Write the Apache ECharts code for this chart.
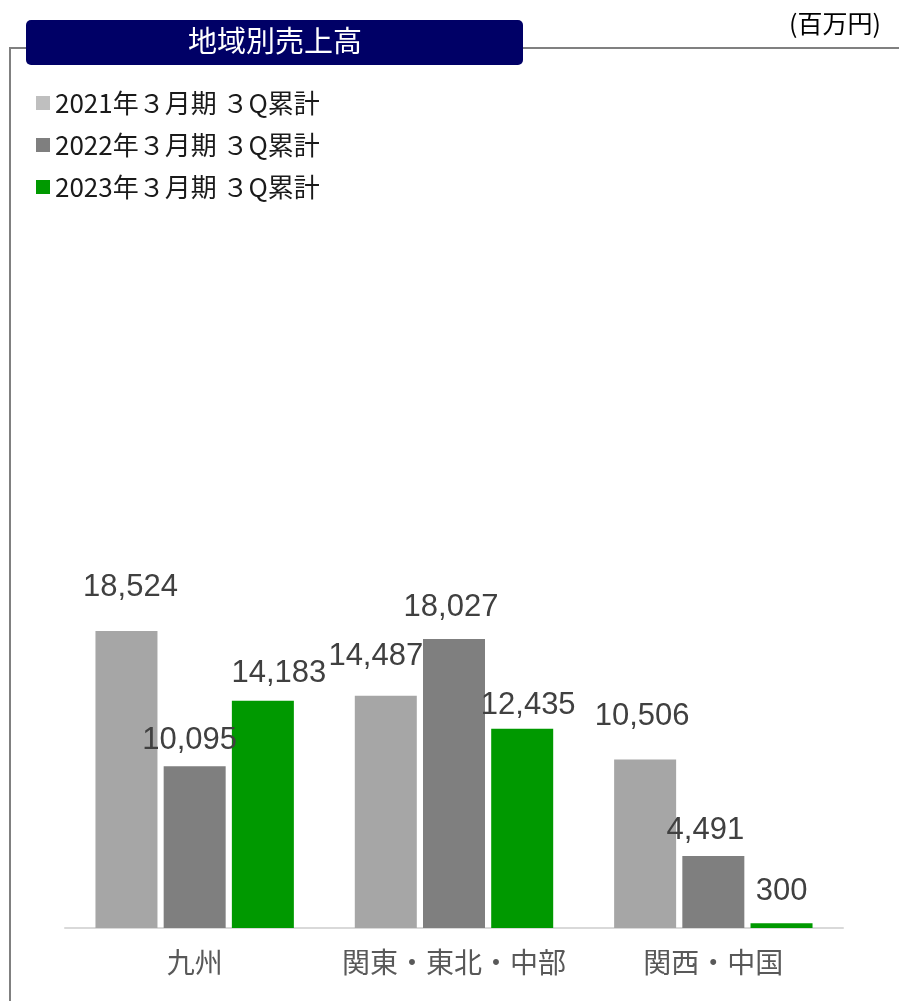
<!DOCTYPE html>
<html>
<head>
<meta charset="utf-8">
<script src="https://cdn.jsdelivr.net/npm/echarts@6/dist/echarts.min.js"></script>
<style>
  html, body { margin: 0; padding: 0; background: #fff; }
  #main { width: 899px; height: 1001px; }
</style>
</head>
<body>
<div id="main"></div>
<script>
// data
var regions = ["九州", "関東・東北・中部", "関西・中国"];
var seriesNames = ["2021年３月期 ３Q累計", "2022年３月期 ３Q累計", "2023年３月期 ３Q累計"];
var fy2021 = [18524, 14487, 10506];
var fy2022 = [10095, 18027, 4491];
var fy2023 = [14183, 12435, 300];

var barColors = ["#a6a6a6", "#7f7f7f", "#009900"];
var legendColors = ["#bfbfbf", "#7f7f7f", "#009900"];
// label nudges (Excel style placement), [dx, dy] per bar
var labelShift = [
  [[4, -23], [-10, -19], [-3, -23]],
  [[-5, -5], [-3, -11], [-8, -5]],
  [[16, -7], [6, -3], [0, -11]]
];

var chart = echarts.init(document.getElementById("main"));
var allValues = [fy2021, fy2022, fy2023];

function makeSeries(idx) {
  return {
    name: seriesNames[idx],
    type: "bar",
    barWidth: 62,
    barGap: "10%",
    data: allValues[idx].map(function (v, i) {
      return {
        value: v,
        label: { offset: labelShift[idx][i] }
      };
    }),
    itemStyle: { color: barColors[idx] },
    label: {
      show: true,
      position: "top",
      color: "#404040",
      fontSize: 31,
      fontFamily: "Liberation Sans",
      formatter: function (p) {
        return p.value.toLocaleString("en-US");
      }
    }
  };
}

var option = {
  animation: false,
  textStyle: { fontFamily: "'Noto Sans CJK JP', sans-serif" },
  graphic: [
    {
      type: "polyline",
      shape: { points: [[10, 1001], [10, 48], [899, 48]] },
      style: { stroke: "#808080", lineWidth: 2, fill: null },
      z: 1
    },
    {
      type: "rect",
      shape: { x: 26, y: 20, width: 497, height: 45, r: 5 },
      style: { fill: "#000066" },
      z: 2
    },
    {
      type: "text",
      x: 275, y: 41,
      style: {
        text: "地域別売上高",
        fill: "#ffffff",
        fontSize: 29,
        fontFamily: "Noto Sans CJK JP",
        align: "center",
        verticalAlign: "middle"
      },
      z: 3
    },
    {
      type: "text",
      x: 881, y: 23,
      style: {
        text: "(百万円)",
        fill: "#000000",
        fontSize: 25,
        fontFamily: "Noto Sans CJK JP",
        align: "right",
        verticalAlign: "middle"
      },
      z: 3
    }
  ],
  legend: {
    orient: "vertical",
    left: 31,
    top: 85,
    itemWidth: 14,
    itemHeight: 14,
    itemGap: 16,
    icon: "rect",
    data: seriesNames.map(function (n, i) {
      return { name: n, itemStyle: { color: legendColors[i] } };
    }),
    textStyle: {
      fontSize: 26,
      lineHeight: 26,
      color: "#1a1a1a",
      fontFamily: "Noto Sans CJK JP"
    }
  },
  grid: {
    left: 65,
    right: 56,
    top: 126.5,
    bottom: 73,
    containLabel: false
  },
  xAxis: {
    type: "category",
    data: regions,
    axisTick: { show: false },
    axisLine: { lineStyle: { color: "#d9d9d9", width: 2 } },
    axisLabel: {
      interval: 0,
      color: "#595959",
      fontSize: 28,
      margin: 20,
      fontFamily: "Noto Sans CJK JP"
    }
  },
  yAxis: {
    type: "value",
    min: 0,
    max: 50000,
    show: false,
    splitLine: { show: false }
  },
  series: [makeSeries(0), makeSeries(1), makeSeries(2)]
};

chart.setOption(option);
</script>
</body>
</html>
